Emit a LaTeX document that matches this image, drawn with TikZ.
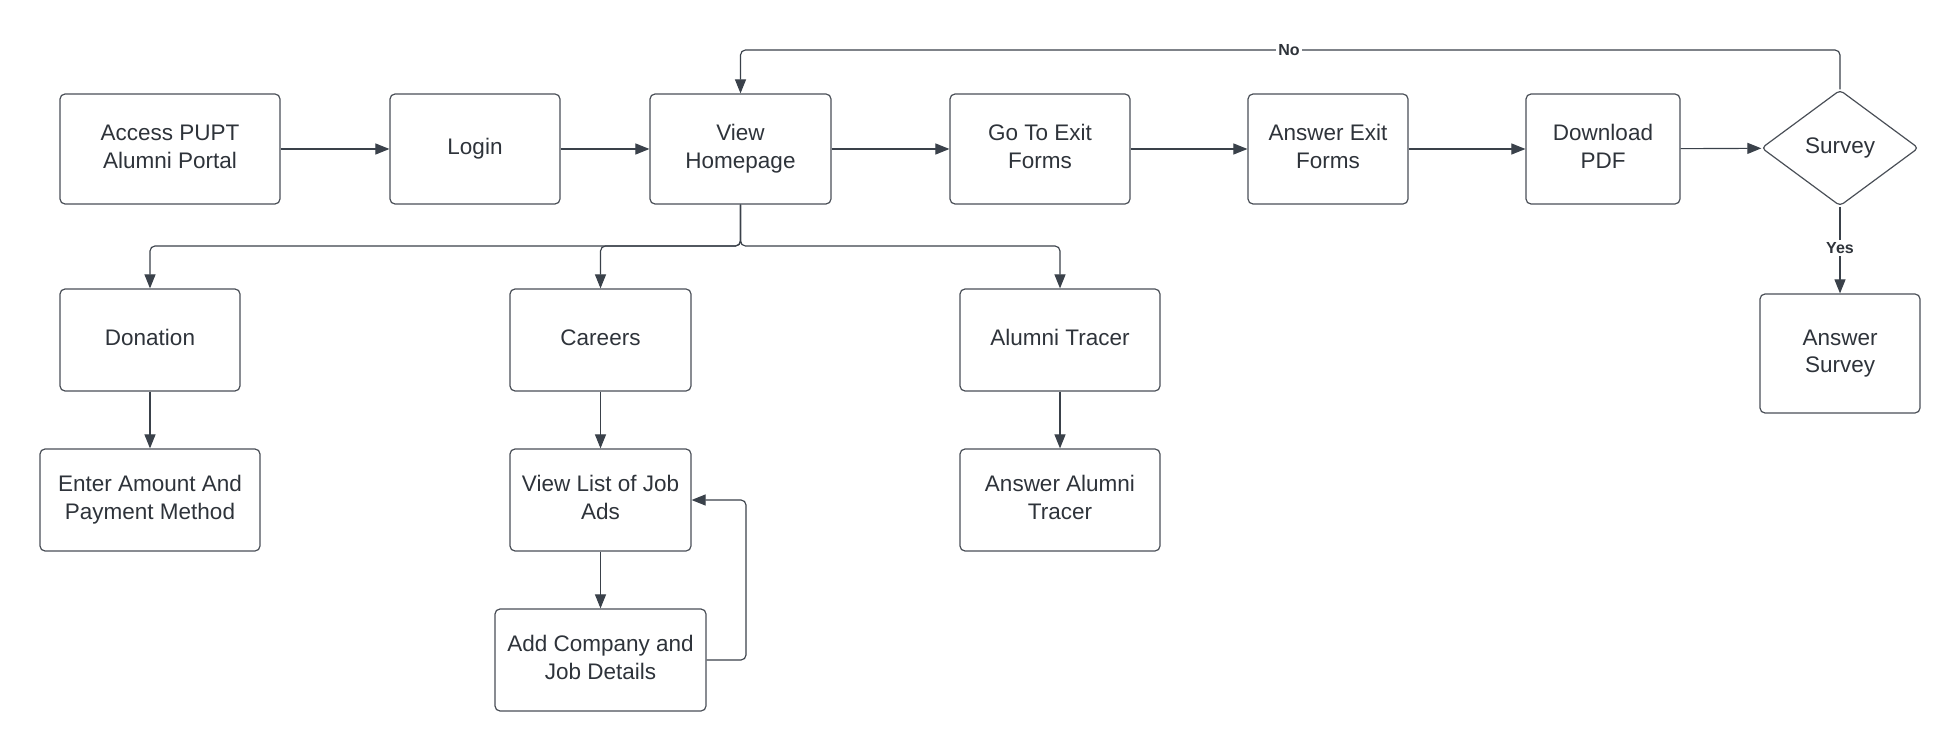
\documentclass[tikz,border=0pt]{standalone}
\usepackage{fontspec}
\setmainfont{Liberation Sans}
\usetikzlibrary{shapes.geometric,arrows.meta}
\definecolor{ln}{HTML}{3A414A}
\definecolor{bx}{HTML}{4A4F57}
\definecolor{tx}{HTML}{2E333A}
\newcommand{\up}[1]{\raisebox{2pt}{\begin{tabular}{@{}c@{}}#1\end{tabular}}}
\begin{document}
\begin{tikzpicture}[x=1pt,y=-1pt,
  box/.style={draw=bx,line width=1.2pt,rounded corners=5pt,align=center,text=tx,
    font=\fontsize{22.5}{27.5}\selectfont,inner sep=0pt},
  dia/.style={draw=bx,line width=1.2pt,diamond,rounded corners=4pt,align=center,text=tx,
    font=\fontsize{22.5}{27.5}\selectfont,inner sep=0pt,minimum width=157pt,minimum height=116pt,aspect=1.35},
  conn/.style={draw=ln,line width=1.15pt,rounded corners=5pt,-{Triangle[length=14pt,width=11pt]}},
  lbl/.style={fill=white,text=tx,font=\fontsize{16}{18}\selectfont\bfseries,inner sep=2pt}]
\useasboundingbox (0,0) rectangle (1960,751);
% row 1
\node[box,minimum width=220pt,minimum height=110pt] (acc) at (170,149) {\up{Access PUPT\\Alumni Portal}};
\node[box,minimum width=170pt,minimum height=110pt] (log) at (475,149) {\up{Login}};
\node[box,minimum width=181pt,minimum height=110pt] (home) at (740.5,149) {\up{View\\Homepage}};
\node[box,minimum width=180pt,minimum height=110pt] (goto) at (1040,149) {\up{Go To Exit\\Forms}};
\node[box,minimum width=160pt,minimum height=110pt] (ans) at (1328,149) {\up{Answer Exit\\Forms}};
\node[box,minimum width=154pt,minimum height=110pt] (pdf) at (1603,149) {\up{Download\\PDF}};
\node[dia] (sur) at (1840,148) {\up{Survey}};
\node[box,minimum width=160pt,minimum height=119pt] (asur) at (1840,353.5) {\up{Answer\\Survey}};
% row 2
\node[box,minimum width=180pt,minimum height=102pt] (don) at (150,340) {\up{Donation}};
\node[box,minimum width=181pt,minimum height=102pt] (car) at (600.5,340) {\up{Careers}};
\node[box,minimum width=200pt,minimum height=102pt] (trc) at (1060,340) {\up{Alumni Tracer}};
% row 3
\node[box,minimum width=220pt,minimum height=102pt] (amt) at (150,500) {\up{Enter Amount And\\Payment Method}};
\node[box,minimum width=181pt,minimum height=102pt] (list) at (600.5,500) {\up{View List of Job\\Ads}};
\node[box,minimum width=200pt,minimum height=102pt] (atr) at (1060,500) {\up{Answer Alumni\\Tracer}};
\node[box,minimum width=211pt,minimum height=102pt] (add) at (600.5,660) {\up{Add Company and\\Job Details}};
% connectors row 1
\draw[conn] (acc) -- (log);
\draw[conn] (log) -- (home);
\draw[conn] (home) -- (goto);
\draw[conn] (goto) -- (ans);
\draw[conn] (ans) -- (pdf);
\draw[conn] (pdf) -- (sur);
% No loop
\coordinate (ny) at (0,50);
\draw[conn] (sur.north) |- (ny -| home.north) -- (home.north);
\node[lbl] (no) at (1289,50) {No};
% Yes
\draw[conn] (sur.south) -- (asur.north);
\node[lbl] (yes) at (1840,248) {Yes};
% branches
\coordinate (br) at (740.5,246);
\draw[conn] (home.south) |- (br) -| (don.north);
\draw[conn] (home.south) |- (br) -| (car.north);
\draw[conn] (home.south) |- (br) -| (trc.north);
% verticals
\draw[conn] (don) -- (amt);
\draw[conn] (car) -- (list);
\draw[conn] (trc) -- (atr);
\draw[conn] (list) -- (add);
% loop back
\coordinate (lx) at (746,0);
\draw[conn] (add.east) -| (lx |- 0,500) -- (list.east |- 0,500);
\end{tikzpicture}
\end{document}
